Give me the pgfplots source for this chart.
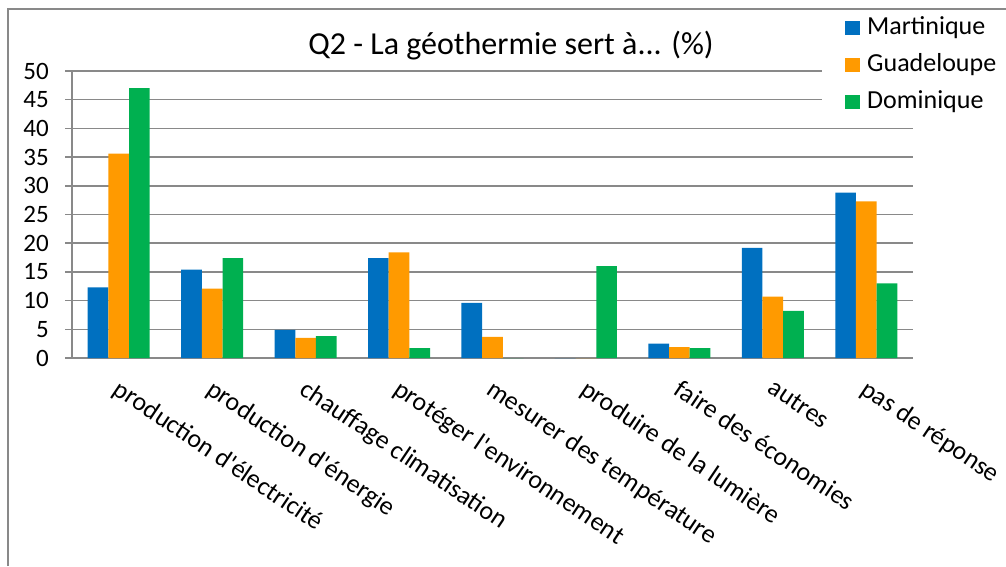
\documentclass[border=0pt]{standalone}
\usepackage{pgfplots}
\pgfplotsset{compat=1.18}
\usepackage{pgfplotstable}
\usepackage{fontspec}
\setmainfont{Carlito}[Ligatures=TeXOff]
\definecolor{cblue}{HTML}{0070C0}
\definecolor{corange}{HTML}{FF9A00}
\definecolor{cgreen}{HTML}{00B050}
\definecolor{cgrid}{HTML}{898989}

\pgfplotstableread{
x M G D
0 12.3 35.6 47.0
1 15.4 12.1 17.4
2 4.9 3.5 3.8
3 17.4 18.4 1.7
4 9.6 3.7 0
5 0 0 16.0
6 2.5 1.9 1.7
7 19.2 10.7 8.2
8 28.8 27.3 13.0
}\data

\begin{document}
\begin{tikzpicture}
\path[use as bounding box] (0pt,0pt) rectangle (1006pt,566pt);
\begin{axis}[
  at={(72pt,208pt)}, anchor=south west,
  scale only axis, width=841pt, height=287pt,
  xmin=-0.5, xmax=8.5, ymin=0, ymax=50,
  ytick={0,5,...,50},
  ymajorgrids, grid style={cgrid, line width=1.5pt},
  axis lines*=left, axis line style={cgrid, line width=1.5pt, -},
  xtick={0,...,8},
  xticklabels={production d'électricité, production d'énergie, chauffage climatisation, protéger l'environnement, mesurer des température, produire de la lumière, faire des économies, autres, pas de réponse},
  x tick style={draw=none},
  extra x ticks={-0.5,0.5,...,8.5},
  extra x tick labels={},
  extra x tick style={tick style={draw=cgrid, line width=1.5pt}, major tick length=8pt, tick align=outside, grid=none},
  y tick style={cgrid, line width=1.5pt},
  tick align=outside, major tick length=7pt,
  yticklabel style={font=\fontsize{25}{30}\selectfont, inner sep=0pt, xshift=-16pt},
  xticklabel style={font=\fontsize{26}{30}\selectfont, rotate=-34, anchor=north west, inner sep=0pt, yshift=-9pt, xshift=10pt},
  /pgf/number format/assume math mode=true,
  legend style={at={(0.8918,1.2055)}, anchor=north west, fill=white, draw=none,
    inner xsep=23pt, inner ysep=4pt,
    nodes={font=\fontsize{26}{30}\selectfont, inner sep=0pt, text height=18pt, text depth=6pt},
    row sep=13pt,
    /tikz/every odd column/.append style={column sep=7pt}},
  legend cell align=left,
  legend image code/.code={\fill[#1] (0pt,-7pt) rectangle (15pt,7pt);},
]
\addplot[ybar, bar width=20.67pt, bar shift=-20.67pt, fill=cblue, draw=none] table[x=x,y=M]{\data};
\addplot[ybar, bar width=20.67pt, bar shift=0pt, fill=corange, draw=none] table[x=x,y=G]{\data};
\addplot[ybar, bar width=20.67pt, bar shift=20.67pt, fill=cgreen, draw=none] table[x=x,y=D]{\data};
\legend{Martinique, Guadeloupe, Dominique}
\end{axis}
\draw[cgrid, line width=1.5pt] (8pt,0pt) -- (8pt,557pt) -- (1006pt,557pt);
\node[font=\fontsize{32}{36}\selectfont, inner sep=0pt] at (511pt,520pt) {Q2 - La géothermie sert à{.}{.}{.} (\%)};
\end{tikzpicture}
\end{document}
